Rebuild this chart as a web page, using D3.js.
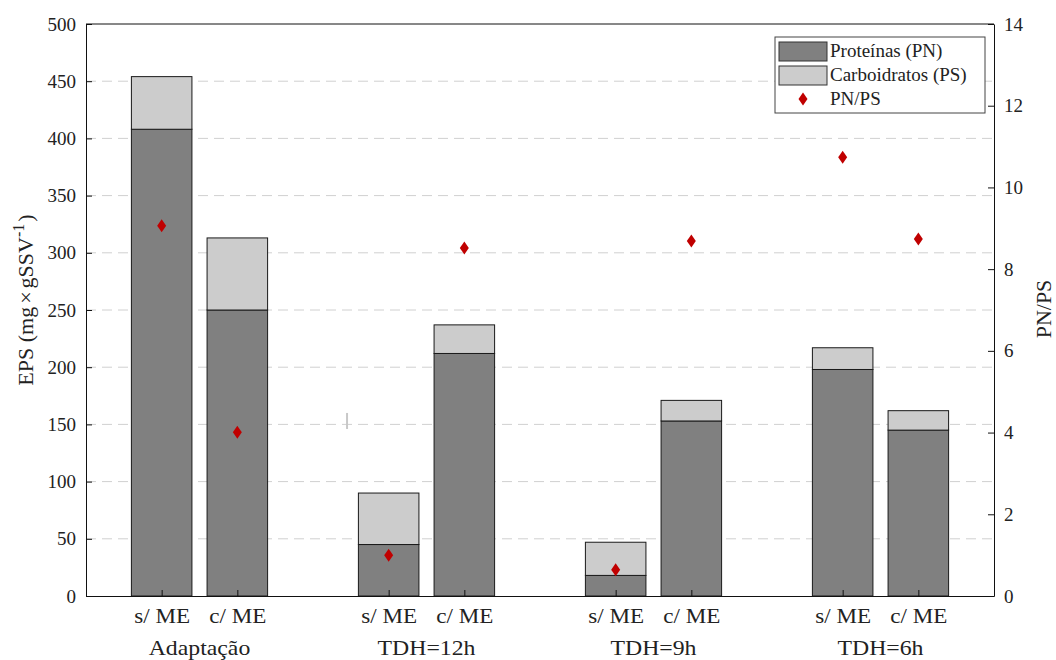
<!DOCTYPE html>
<html><head><meta charset="utf-8">
<script src="https://cdn.jsdelivr.net/npm/d3@7"></script>
<style>body{margin:0;background:#fff}text{font-family:"Liberation Serif","Times New Roman",serif;fill:#222}</style>
</head><body><svg id="c" width="1056" height="660"></svg>
<script>
const groups = ["Adaptação","TDH=12h","TDH=9h","TDH=6h"];
const subLabels = ["s/ ME","c/ ME"];
const positions = [1,2,4,5,7,8,10,11];
const proteinas = [408,250,45,212,18,153,198,145];
const carboidratos = [46,63,45,25,29,18,19,17];
const pnps = [9.06,4.01,1.0,8.52,0.64,8.69,10.74,8.74];
const leftTicks = [0,50,100,150,200,250,300,350,400,450,500];
const rightTicks = [0,2,4,6,8,10,12,14];
const stray = {x:3.45, y0:146, y1:160};

const svg = d3.select("#c");
const L=86,R=994,T=24,B=596;
const x = d3.scaleLinear().domain([0,12]).range([L,R]);
const y = d3.scaleLinear().domain([0,500]).range([B,T]);
const y2 = d3.scaleLinear().domain([0,14]).range([B,T]);
const bw = x(0.8)-x(0);
const FF = "Liberation Serif";
function stretch(sel,f){sel.each(function(){const l=this.getComputedTextLength();d3.select(this).attr("textLength",l*f).attr("lengthAdjust","spacingAndGlyphs");});}

// grid
svg.append("g").selectAll("line").data(leftTicks.filter(d=>d>0&&d<500)).join("line")
  .attr("x1",L).attr("x2",R).attr("y1",d=>y(d)).attr("y2",d=>y(d))
  .attr("stroke","#d0d0d0").attr("stroke-width",1).attr("stroke-dasharray","10,6");

// stray mark
svg.append("line").attr("x1",x(stray.x)).attr("x2",x(stray.x)).attr("y1",y(stray.y0)).attr("y2",y(stray.y1))
  .attr("stroke","#c8c8c8").attr("stroke-width",2);

// bars
const data = positions.map((p,i)=>({p,pn:proteinas[i],ps:carboidratos[i],r:pnps[i]}));
const bars = svg.append("g");
bars.selectAll("rect.pn").data(data).join("rect").attr("class","pn")
  .attr("x",d=>x(d.p)-bw/2).attr("width",bw).attr("y",d=>y(d.pn)).attr("height",d=>y(0)-y(d.pn))
  .attr("fill","#808080").attr("stroke","#1a1a1a").attr("stroke-width",1);
bars.selectAll("rect.ps").data(data).join("rect").attr("class","ps")
  .attr("x",d=>x(d.p)-bw/2).attr("width",bw).attr("y",d=>y(d.pn+d.ps)).attr("height",d=>y(d.pn)-y(d.pn+d.ps))
  .attr("fill","#cccccc").attr("stroke","#1a1a1a").attr("stroke-width",1);

// axes
const ax = svg.append("g").attr("transform",`translate(0,${B})`).call(d3.axisBottom(x).tickValues(positions).tickSizeInner(-6).tickSizeOuter(0).tickFormat((d,i)=>subLabels[i%2]));
const ay = svg.append("g").attr("transform",`translate(${L},0)`).call(d3.axisLeft(y).tickValues(leftTicks).tickSizeInner(-6).tickSizeOuter(0).tickPadding(10));
const ay2 = svg.append("g").attr("transform",`translate(${R},0)`).call(d3.axisRight(y2).tickValues(rightTicks).tickSizeInner(-6).tickSizeOuter(0).tickPadding(10));
svg.append("line").attr("x1",L).attr("x2",R).attr("y1",T).attr("y2",T).attr("stroke","#111");
[ax,ay,ay2].forEach(g=>{g.attr("font-family",FF);g.selectAll("path").attr("stroke","#111");g.selectAll("line").attr("stroke","#111");
  g.selectAll("text").style("font-family",FF).style("font-size","19px").attr("fill","#222");});
ax.selectAll("text").attr("dy","0").attr("y",27).style("font-size","21px");
stretch(ax.selectAll("text"),1.1);
// group labels
const gl = svg.append("g").selectAll("text").data(groups).join("text")
  .attr("x",(d,i)=>x((positions[2*i]+positions[2*i+1])/2)).attr("y",655)
  .attr("text-anchor","middle").style("font-size","22px").text(d=>d);
stretch(gl,1.08);

// diamonds
svg.append("g").selectAll("path").data(data).join("path")
  .attr("transform",d=>`translate(${x(d.p)},${y2(d.r)})`)
  .attr("d","M0,-6.5L4.5,0L0,6.5L-4.5,0Z").attr("fill","#c00000");

// axis titles
const yl = svg.append("text").attr("transform",`translate(33,300) rotate(-90)`).attr("text-anchor","middle").style("font-size","22px");
yl.append("tspan").text("EPS (mg");
yl.append("tspan").attr("dx",3).text("×");
yl.append("tspan").attr("dx",3).text("gSSV");
yl.append("tspan").attr("dy",-9).style("font-size","16px").text("-1");
yl.append("tspan").attr("dy",9).attr("dx",2).text(")");
svg.append("text").attr("transform",`translate(1051,309) rotate(-90)`).attr("text-anchor","middle").style("font-size","22px").text("PN/PS");

// legend
const lg = svg.append("g").attr("transform","translate(775,37)");
lg.append("rect").attr("width",210).attr("height",76).attr("fill","#fff").attr("stroke","#444");
const items=[{t:"Proteínas (PN)",c:"#808080"},{t:"Carboidratos (PS)",c:"#cccccc"},{t:"PN/PS",c:null}];
items.forEach((it,i)=>{
  const cy = 14+i*24;
  if(it.c) lg.append("rect").attr("x",4).attr("y",cy-9).attr("width",48).attr("height",19).attr("fill",it.c).attr("stroke","#333");
  else lg.append("path").attr("transform",`translate(28,${cy})`).attr("d","M0,-6.5L4.5,0L0,6.5L-4.5,0Z").attr("fill","#c00000");
  lg.append("text").attr("x",55).attr("y",cy+6).style("font-size","19px").text(it.t);
});
</script></body></html>
